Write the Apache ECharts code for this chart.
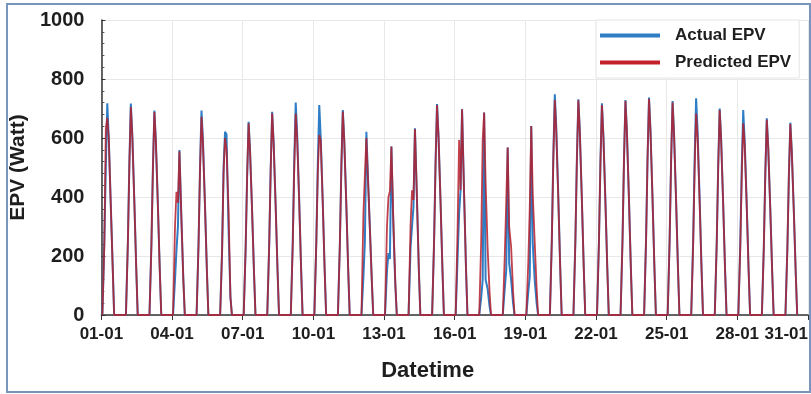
<!DOCTYPE html>
<html>
<head>
<meta charset="utf-8">
<script src="https://cdn.jsdelivr.net/npm/echarts@6/dist/echarts.min.js"></script>
<style>
  html, body { margin: 0; padding: 0; background: #fff; }
  #chart { width: 811px; height: 394px; }
</style>
</head>
<body>
<div id="chart"></div>
<script>
// hours inside each day where a sample is read (first and last are the zero feet)
var dayHours = [1, 3, 4.5, 6, 7.5, 9.5, 11.5, 13];

// one row per day (01-01 .. 30-01), values at dayHours[1..6]
var actualEPV = [
    [250, 500, 718, 600, 380, 170],
    [250, 515, 717, 610, 395, 160],
    [243, 500, 693, 590, 380, 152],
    [120, 220, 300, 559, 330, 120],
    [245, 500, 693, 590, 380, 152],
    [220, 500, 621, 613, 300, 60],
    [230, 470, 655, 555, 360, 145],
    [240, 495, 689, 585, 378, 150],
    [252, 518, 720, 612, 396, 158],
    [250, 510, 712, 600, 390, 155],
    [243, 500, 695, 590, 382, 153],
    [130, 250, 621, 480, 300, 120],
    [150, 210, 190, 571, 300, 100],
    [227, 300, 367, 633, 400, 150],
    [250, 515, 715, 608, 393, 157],
    [200, 345, 424, 697, 420, 160],
    [60, 118, 686, 120, 90, 30],
    [90, 150, 568, 176, 120, 40],
    [80, 130, 641, 244, 120, 40],
    [262, 540, 748, 636, 411, 165],
    [256, 526, 731, 621, 402, 161],
    [251, 517, 718, 610, 395, 158],
    [255, 525, 729, 620, 401, 160],
    [258, 531, 737, 626, 405, 162],
    [254, 522, 725, 616, 399, 160],
    [257, 529, 735, 625, 404, 162],
    [245, 504, 700, 595, 385, 154],
    [243, 500, 695, 590, 382, 153],
    [233, 480, 667, 567, 367, 147],
    [228, 469, 652, 554, 359, 143]
];
var predictedEPV = [
    [240, 630, 668, 600, 380, 160],
    [245, 505, 705, 605, 390, 158],
    [240, 495, 688, 588, 378, 150],
    [300, 418, 380, 555, 330, 120],
    [240, 490, 672, 580, 375, 150],
    [220, 480, 600, 560, 367, 60],
    [228, 468, 650, 552, 358, 144],
    [238, 490, 684, 582, 376, 150],
    [240, 495, 683, 595, 388, 155],
    [245, 480, 610, 590, 385, 150],
    [240, 498, 690, 588, 380, 152],
    [346, 475, 600, 470, 300, 120],
    [300, 400, 420, 571, 320, 110],
    [300, 423, 390, 630, 400, 150],
    [248, 512, 712, 606, 392, 156],
    [300, 593, 424, 697, 420, 160],
    [250, 593, 686, 450, 231, 80],
    [200, 380, 568, 300, 231, 80],
    [180, 366, 641, 413, 250, 90],
    [255, 525, 729, 620, 400, 160],
    [254, 524, 728, 619, 400, 160],
    [250, 512, 712, 606, 392, 157],
    [253, 522, 725, 618, 399, 159],
    [256, 528, 733, 623, 403, 161],
    [252, 519, 720, 613, 396, 158],
    [240, 495, 683, 600, 390, 156],
    [243, 501, 695, 592, 383, 153],
    [228, 470, 650, 575, 375, 150],
    [231, 477, 662, 564, 365, 146],
    [226, 466, 647, 551, 356, 142]
];
var yTicks = [0, 200, 400, 600, 800, 1000];

function toPoints(days) {
    var pts = [];
    days.forEach(function (row, d) {
        pts.push([d * 24 + dayHours[0], 0]);
        row.forEach(function (v, j) {
            pts.push([d * 24 + dayHours[j + 1], v]);
        });
        pts.push([d * 24 + dayHours[dayHours.length - 1], 0]);
    });
    return pts;
}

function dayLabel(v) {
    var d = Math.round(v / 24) + 1;
    return (d < 10 ? '0' + d : '' + d) + '-01';
}

var font = '"Liberation Sans", Arial, sans-serif';
var chart = echarts.init(document.getElementById('chart'));
chart.setOption({
    animation: false,
    backgroundColor: '#fff',
    grid: { left: 101, right: 3, top: 20, bottom: 79 },
    graphic: [{
        type: 'rect',
        shape: { x: 7, y: 4, width: 803, height: 388 },
        style: { fill: 'none', stroke: '#7895bb', lineWidth: 2 },
        z: 100
    }],
    legend: {
        left: 596,
        top: 20,
        orient: 'vertical',
        icon: 'rect',
        itemWidth: 60,
        itemHeight: 4,
        itemGap: 10,
        padding: [7, 8, 7, 4],
        backgroundColor: '#fff',
        borderColor: '#e4e4e4',
        borderWidth: 1,
        textStyle: { fontFamily: font, fontWeight: 'bold', fontSize: 17, color: '#1e1e1e', padding: [0, 0, 0, 10] },
        data: ['Actual EPV', 'Predicted EPV']
    },
    xAxis: {
        type: 'value',
        min: 0,
        max: 720,
        interval: 72,
        name: 'Datetime',
        nameLocation: 'middle',
        nameGap: 45,
        nameTextStyle: { fontFamily: font, fontWeight: 'bold', fontSize: 22, color: '#1e1e1e', padding: [0, 54, 0, 0] },
        axisLine: { lineStyle: { color: '#333', width: 1.5 } },
        axisTick: { show: true, length: 5, lineStyle: { color: '#333' } },
        axisLabel: {
            fontFamily: font, fontWeight: 'bold', fontSize: 17, color: '#1e1e1e', margin: 11,
            alignMaxLabel: 'right',
            formatter: dayLabel
        },
        splitLine: { show: true, lineStyle: { color: '#e8e8e8' } }
    },
    yAxis: {
        type: 'value',
        min: yTicks[0],
        max: yTicks[yTicks.length - 1],
        interval: 200,
        name: 'EPV (Watt)',
        nameLocation: 'middle',
        nameGap: 67,
        nameTextStyle: { fontFamily: font, fontWeight: 'bold', fontSize: 21, color: '#1e1e1e' },
        axisLine: { show: true, lineStyle: { color: '#333', width: 1.5 } },
        axisTick: { show: true, inside: true, length: 4, lineStyle: { color: '#333' } },
        minorTick: { show: true, splitNumber: 5, length: 3, lineStyle: { color: '#555' } },
        axisLabel: {
            fontFamily: font, fontWeight: 'bold', fontSize: 20, color: '#1e1e1e', margin: 17,
            formatter: function (v) { return String(v); }
        },
        splitLine: { show: true, lineStyle: { color: '#e8e8e8' } }
    },
    series: [{
        name: 'Actual EPV',
        type: 'line',
        showSymbol: false,
        symbol: 'none',
        color: '#2f7dc4',
        lineStyle: { color: '#2f7dc4', width: 2 },
        data: toPoints(actualEPV)
    }, {
        name: 'Predicted EPV',
        type: 'line',
        showSymbol: false,
        symbol: 'none',
        color: '#c4202a',
        lineStyle: { color: '#b51e2c', width: 1.8, opacity: 0.85 },
        data: toPoints(predictedEPV)
    }]
});
</script>
</body>
</html>
